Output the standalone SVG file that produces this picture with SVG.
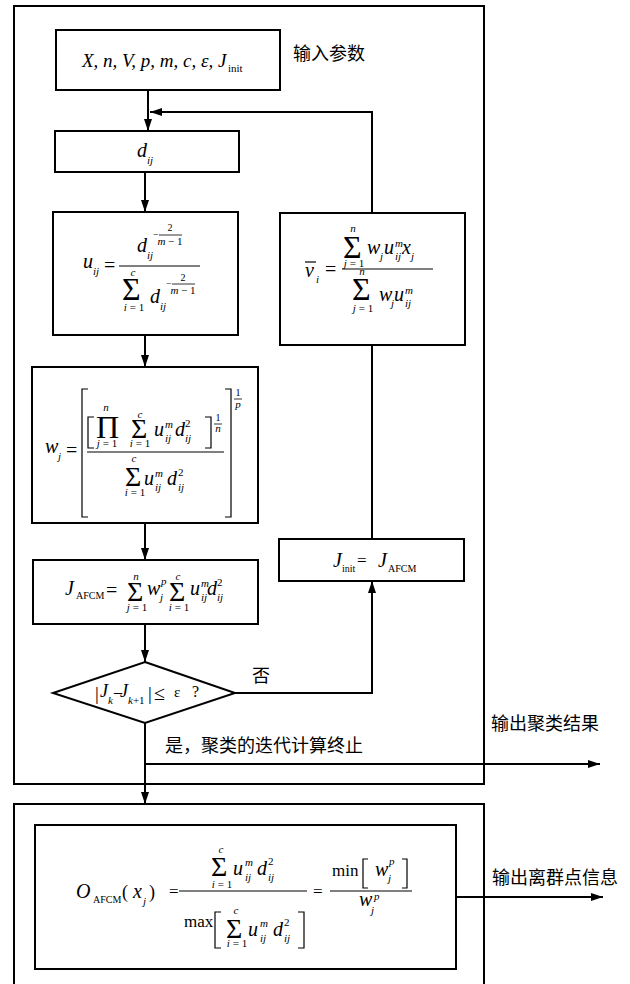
<svg xmlns="http://www.w3.org/2000/svg" width="630" height="984" viewBox="0 0 630 984">
<style>
.box{fill:none;stroke:#000;stroke-width:2}
.ln{fill:none;stroke:#000;stroke-width:2}
.th{fill:none;stroke:#000;stroke-width:1.2}
.i{font-family:"Liberation Serif",serif;font-style:italic;font-size:20px}
.r{font-family:"Liberation Serif",serif;font-size:20px}
.s{font-family:"Liberation Serif",serif;font-style:italic;font-size:11px}
.rs{font-family:"Liberation Serif",serif;font-size:10px}
.sig{font-family:"Liberation Serif",serif;font-size:28px}
.sigL{font-family:"Liberation Serif",serif;font-size:32px}
.c{text-anchor:middle}
.zh{font-family:"Noto Sans CJK SC","Noto Sans",sans-serif;font-size:18px}
</style>
<defs>
<marker id="ah" markerWidth="12" markerHeight="8" refX="12" refY="4" orient="auto" markerUnits="userSpaceOnUse">
<path d="M0,0 L12,4 L0,8 z" fill="#000"/>
</marker>
</defs>
<g id="frames">
<rect class="box" x="14" y="6" width="470" height="778"/>
<path class="box" d="M14,990 V804 H484 V990"/>
</g>
<g id="connectors">
<path class="ln" d="M148,90 V131" marker-end="url(#ah)"/>
<path class="ln" d="M372,213 V112 H150" marker-end="url(#ah)"/>
<path class="ln" d="M145,172 V212" marker-end="url(#ah)"/>
<path class="ln" d="M145,335 V367" marker-end="url(#ah)"/>
<path class="ln" d="M145,523 V560" marker-end="url(#ah)"/>
<path class="ln" d="M145,624 V662" marker-end="url(#ah)"/>
<path class="ln" d="M235,693 H372 V581" marker-end="url(#ah)"/>
<path class="ln" d="M372,539 V345"/>
<path class="ln" d="M145,723 V804" marker-end="url(#ah)"/>
<path class="ln" d="M145,764 H600" marker-end="url(#ah)"/>
<path class="ln" d="M456,897 H603" marker-end="url(#ah)"/>
</g>
<g id="input">
<rect class="box" x="56" y="30" width="224" height="60"/>
<text class="i" x="82" y="67" style="font-size:19px">X, n, V, p, m, c, ε, J</text>
<text class="rs" x="228" y="72" style="font-size:11px">init</text>
<text class="zh" x="293" y="60">输入参数</text>
</g>
<g id="dij">
<rect class="box" x="55" y="131" width="184" height="41"/>
<text class="i" x="137" y="157">d</text>
<text class="s" x="147" y="164">ij</text>
</g>
<g id="uij">
<rect class="box" x="53" y="212" width="185" height="123"/>
<text class="i" x="83" y="268">u</text>
<text class="s" x="93" y="275">ij</text>
<text class="r" x="104" y="272">=</text>
<line class="th" x1="119" y1="266" x2="200" y2="266"/>
<text class="i" x="137" y="252">d</text>
<text class="s" x="147" y="259">ij</text>
<text class="rs" x="153" y="238">−</text>
<text class="rs c" x="170" y="231">2</text>
<line class="th" x1="159" y1="235" x2="182" y2="235" style="stroke-width:0.8"/>
<text class="s c" x="170" y="245">m <tspan font-style="normal">− 1</tspan></text>
<text class="sigL" x="122" y="300">Σ</text>
<text class="s c" x="133" y="276">c</text>
<text class="s c" x="134" y="311">i <tspan font-style="normal">= 1</tspan></text>
<text class="i" x="150" y="303">d</text>
<text class="s" x="160" y="310">ij</text>
<text class="rs" x="166" y="287">−</text>
<text class="rs c" x="183" y="281">2</text>
<line class="th" x1="172" y1="284" x2="195" y2="284" style="stroke-width:0.8"/>
<text class="s c" x="183" y="294">m <tspan font-style="normal">− 1</tspan></text>
</g>
<g id="wj">
<rect class="box" x="32" y="367" width="226" height="156"/>
<text class="i" x="45" y="453">w</text>
<text class="s" x="58" y="460">j</text>
<text class="r" x="66" y="457">=</text>
<path class="th" d="M88,389 H82 V517 H88"/>
<path class="th" d="M225,389 H231 V517 H225"/>
<text class="rs c" x="238" y="396">1</text>
<line class="th" x1="234" y1="399" x2="242" y2="399" style="stroke-width:0.8"/>
<text class="s c" x="238" y="408">p</text>
<line class="th" x1="87" y1="452" x2="224" y2="452"/>
<path class="th" d="M94,417 H88 V448 H94"/>
<path class="th" d="M205,417 H211 V448 H205"/>
<text class="rs c" x="218" y="421">1</text>
<line class="th" x1="214" y1="424" x2="222" y2="424" style="stroke-width:0.8"/>
<text class="s c" x="218" y="432">n</text>
<text class="sigL" x="96" y="438">Π</text>
<text class="s c" x="106" y="411">n</text>
<text class="s c" x="107" y="447">j <tspan font-style="normal">= 1</tspan></text>
<text class="sig" x="131" y="438">Σ</text>
<text class="s c" x="140" y="418">c</text>
<text class="s c" x="140" y="447">i <tspan font-style="normal">= 1</tspan></text>
<text class="i" x="154" y="436">u</text>
<text class="s" x="165" y="428">m</text>
<text class="s" x="165" y="442">ij</text>
<text class="i" x="175" y="436">d</text>
<text class="rs" x="185" y="427" style="font-size:11px">2</text>
<text class="s" x="185" y="442">ij</text>
<text class="sig" x="125" y="486">Σ</text>
<text class="s c" x="134" y="462">c</text>
<text class="s c" x="135" y="496">i <tspan font-style="normal">= 1</tspan></text>
<text class="i" x="144" y="485">u</text>
<text class="s" x="155" y="477">m</text>
<text class="s" x="155" y="491">ij</text>
<text class="i" x="167" y="485">d</text>
<text class="rs" x="178" y="476" style="font-size:11px">2</text>
<text class="s" x="178" y="491">ij</text>
</g>
<g id="jafcm">
<rect class="box" x="33" y="560" width="225" height="64"/>
<text class="i" x="65" y="595">J</text>
<text class="rs" x="76" y="599">AFCM</text>
<text class="r" x="106" y="597">=</text>
<text class="sig" x="127" y="601">Σ</text>
<text class="s c" x="136" y="580">n</text>
<text class="s c" x="137" y="611">j <tspan font-style="normal">= 1</tspan></text>
<text class="i" x="147" y="595">w</text>
<text class="s" x="161" y="585">p</text>
<text class="s" x="160" y="601">j</text>
<text class="sig" x="169" y="601">Σ</text>
<text class="s c" x="178" y="580">c</text>
<text class="s c" x="179" y="611">i <tspan font-style="normal">= 1</tspan></text>
<text class="i" x="190" y="595">u</text>
<text class="s" x="201" y="587">m</text>
<text class="s" x="201" y="601">ij</text>
<text class="i" x="207" y="595">d</text>
<text class="rs" x="217" y="586" style="font-size:11px">2</text>
<text class="s" x="217" y="601">ij</text>
</g>
<g id="decision">
<polygon class="box" points="145,662 235,693 145,723 53,693"/>
<text class="r" x="95" y="700" style="font-size:19px">|</text>
<text class="i" x="100" y="697" style="font-size:18px">J</text>
<text class="s" x="108" y="704">k</text>
<text class="r" x="114" y="697" style="font-size:16px">–</text>
<text class="i" x="120" y="697" style="font-size:18px">J</text>
<text class="s" x="128" y="704">k<tspan font-style="normal">+1</tspan></text>
<text class="r" x="148" y="700" style="font-size:19px">|</text>
<text class="r" x="154" y="700">≤</text>
<text class="r" x="174" y="697" style="font-size:15px">ε</text>
<text class="r" x="192" y="697" style="font-size:16px">?</text>
<text class="zh" x="252" y="682">否</text>
<text class="zh" x="165" y="752">是，聚类的迭代计算终止</text>
</g>
<g id="vi">
<rect class="box" x="280" y="213" width="185" height="132"/>
<text class="i" x="305" y="277">v</text>
<line class="th" x1="305" y1="262" x2="316" y2="262"/>
<text class="s" x="316" y="283">i</text>
<text class="r" x="325" y="276">=</text>
<line class="th" x1="342" y1="269" x2="433" y2="269"/>
<text class="sigL" x="343" y="258">Σ</text>
<text class="s c" x="353" y="232">n</text>
<text class="s c" x="354" y="267">j <tspan font-style="normal">= 1</tspan></text>
<text class="i" x="367" y="254">w</text>
<text class="s" x="380" y="260">j</text>
<text class="i" x="384" y="254">u</text>
<text class="s" x="395" y="247">m</text>
<text class="s" x="395" y="260">ij</text>
<text class="i" x="402" y="254">x</text>
<text class="s" x="411" y="260">j</text>
<text class="sigL" x="352" y="300">Σ</text>
<text class="s c" x="362" y="275">n</text>
<text class="s c" x="363" y="312">j <tspan font-style="normal">= 1</tspan></text>
<text class="i" x="379" y="301">w</text>
<text class="s" x="391" y="307">j</text>
<text class="i" x="394" y="301">u</text>
<text class="s" x="405" y="294">m</text>
<text class="s" x="405" y="307">ij</text>
</g>
<g id="jinit">
<rect class="box" x="279" y="539" width="185" height="42"/>
<text class="i" x="333" y="567">J</text>
<text class="rs" x="342" y="572">init</text>
<text class="r" x="357" y="566" style="font-size:17px">=</text>
<text class="i" x="378" y="567">J</text>
<text class="rs" x="388" y="572">AFCM</text>
</g>
<g id="outlier">
<rect class="box" x="35" y="825" width="421" height="144"/>
<text class="i" x="76" y="898">O</text>
<text class="rs" x="93" y="903">AFCM</text>
<text class="r" x="122" y="898" style="font-size:18px">(</text>
<text class="i" x="133" y="898">x</text>
<text class="s" x="143" y="905">j</text>
<text class="r" x="149" y="898" style="font-size:18px">)</text>
<text class="r" x="169" y="897" style="font-size:17px">=</text>
<line class="th" x1="179" y1="891" x2="307" y2="891"/>
<text class="sig" x="211" y="876">Σ</text>
<text class="s c" x="221" y="853">c</text>
<text class="s c" x="222" y="888">i <tspan font-style="normal">= 1</tspan></text>
<text class="i" x="233" y="875">u</text>
<text class="s" x="245" y="866">m</text>
<text class="s" x="245" y="881">ij</text>
<text class="i" x="257" y="875">d</text>
<text class="rs" x="268" y="865" style="font-size:11px">2</text>
<text class="s" x="268" y="881">ij</text>
<text class="r" x="184" y="927" style="font-size:17px">max</text>
<path class="th" d="M221,912 H215 V948 H221"/>
<text class="sig" x="226" y="938">Σ</text>
<text class="s c" x="236" y="914">c</text>
<text class="s c" x="237" y="947">i <tspan font-style="normal">= 1</tspan></text>
<text class="i" x="248" y="936">u</text>
<text class="s" x="260" y="927">m</text>
<text class="s" x="260" y="942">ij</text>
<text class="i" x="273" y="936">d</text>
<text class="rs" x="284" y="926" style="font-size:11px">2</text>
<text class="s" x="284" y="942">ij</text>
<path class="th" d="M298,912 H304 V948 H298"/>
<text class="r" x="313" y="897" style="font-size:17px">=</text>
<line class="th" x1="330" y1="891" x2="412" y2="891"/>
<text class="r" x="332" y="876" style="font-size:17px">min</text>
<path class="th" d="M368,859 H363 V888 H368"/>
<text class="i" x="375" y="876">w</text>
<text class="s" x="389" y="865">p</text>
<text class="s" x="388" y="882">j</text>
<path class="th" d="M402,859 H407 V888 H402"/>
<text class="i" x="359" y="906">w</text>
<text class="s" x="374" y="900">p</text>
<text class="s" x="371" y="914">j</text>
<text class="zh" x="492" y="884">输出离群点信息</text>
</g>
<g id="output">
<text class="zh" x="491" y="730">输出聚类结果</text>
</g>
</svg>
